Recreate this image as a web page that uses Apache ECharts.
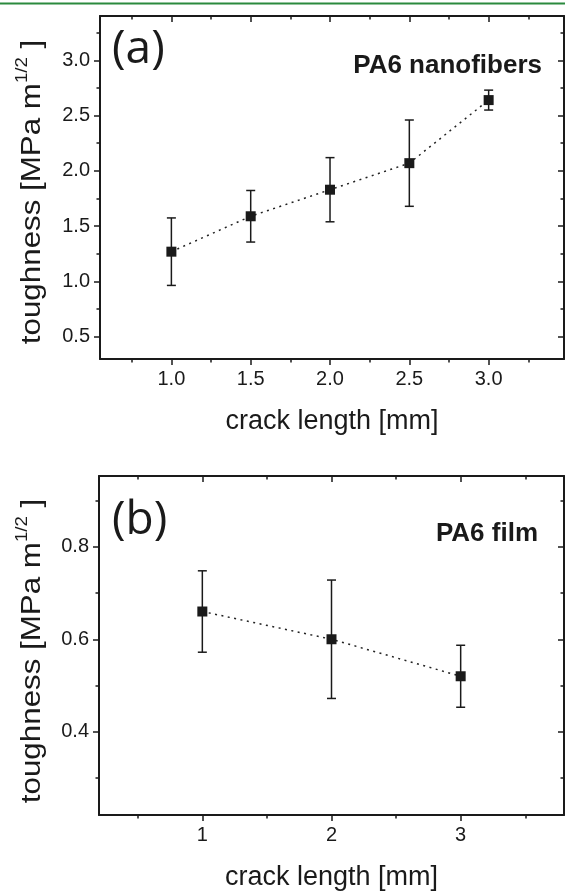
<!DOCTYPE html>
<html><head><meta charset="utf-8">
<script src="https://cdn.jsdelivr.net/npm/echarts@6/dist/echarts.min.js"></script>
<style>html,body{margin:0;padding:0;background:#fff}#c{width:565px;height:892px}</style>
</head><body><div id="c"></div>
<script>
// ---- data ----
const crackA = [1.0, 1.5, 2.0, 2.5, 3.0];
const toughA = [1.27, 1.59, 1.83, 2.07, 2.64];
const errA   = [0.305, 0.233, 0.29, 0.39, 0.09];
const crackB = [1, 2, 3];
const toughB = [0.66, 0.60, 0.52];
const errB   = [0.088, 0.128, 0.067];
const xMajorA = [1.0, 1.5, 2.0, 2.5, 3.0];
const xMinorA = [0.75, 1.25, 1.75, 2.25, 2.75, 3.25];
const yMajorA = [0.5, 1.0, 1.5, 2.0, 2.5, 3.0];
const yMinorA = [0.75, 1.25, 1.75, 2.25, 2.75, 3.25];
const xMajorB = [1, 2, 3];
const xMinorB = [0.5, 1.5, 2.5, 3.5];
const yMajorB = [0.4, 0.6, 0.8];
const yMinorB = [0.3, 0.5, 0.7, 0.9];
const labelA = '(a)';
const labelB = '(b)';
const nameA = 'PA6 nanofibers';
const nameB = 'PA6 film';
const xTitle = 'crack length [mm]';

const INK = '#1a1a1a';
const FONT = '"Liberation Sans", Arial, sans-serif';

function buildAxes(gi, dim, min, max, major, minor, fmt) {
  const mainPos = dim === 'x' ? 'bottom' : 'left';
  const oppPos = dim === 'x' ? 'top' : 'right';
  const tickStyle = {color: INK, width: 1.5};
  const lineOn = {show: true, onZero: false, lineStyle: {color: INK, width: 2}};
  const lineOff = {show: false, onZero: false};
  const base = {type: 'value', gridIndex: gi, min: min, max: max, splitLine: {show: false}, axisLabel: {show: false}};
  const main = Object.assign({}, base, {
    position: mainPos, axisLine: lineOn,
    axisTick: {show: true, inside: false, length: 6, customValues: major, lineStyle: tickStyle},
    axisLabel: {show: true, customValues: major, formatter: fmt, margin: 10, fontSize: 20, fontFamily: FONT, color: INK}
  });
  if (dim === 'x') {
    main.name = xTitle; main.nameLocation = 'middle'; main.nameGap = 49;
    main.nameTextStyle = {fontSize: 27, fontFamily: FONT, color: INK};
  }
  return [
    main,
    Object.assign({}, base, {position: mainPos, axisLine: lineOff,
      axisTick: {show: true, inside: false, length: 3.5, customValues: minor, lineStyle: tickStyle}}),
    Object.assign({}, base, {position: oppPos, axisLine: lineOn,
      axisTick: {show: true, inside: true, length: 6, customValues: major, lineStyle: tickStyle}}),
    Object.assign({}, base, {position: oppPos, axisLine: lineOff,
      axisTick: {show: true, inside: true, length: 3.5, customValues: minor, lineStyle: tickStyle}})
  ];
}

const f1 = v => v.toFixed(1);
const f0 = v => String(Math.round(v));

const xAxes = buildAxes(0, 'x', 0.55, 3.475, xMajorA, xMinorA, f1)
  .concat(buildAxes(1, 'x', 0.2, 3.8, xMajorB, xMinorB, f0));
const yAxes = buildAxes(0, 'y', 0.3, 3.4, yMajorA, yMinorA, f1)
  .concat(buildAxes(1, 'y', 0.22, 0.953, yMajorB, yMinorB, f1));

function errorRender(params, api) {
  const x = api.value(0), lo = api.value(1), hi = api.value(2);
  const p1 = api.coord([x, hi]), p2 = api.coord([x, lo]);
  const w = 4.5;
  const st = {stroke: INK, lineWidth: 1.5};
  return {type: 'group', children: [
    {type: 'line', shape: {x1: p1[0], y1: p1[1], x2: p2[0], y2: p2[1]}, style: st},
    {type: 'line', shape: {x1: p1[0] - w, y1: p1[1], x2: p1[0] + w, y2: p1[1]}, style: st},
    {type: 'line', shape: {x1: p2[0] - w, y1: p2[1], x2: p2[0] + w, y2: p2[1]}, style: st}
  ]};
}

function panelSeries(xi, xs, ys, es) {
  return [
    {type: 'custom', xAxisIndex: xi, yAxisIndex: xi, renderItem: errorRender,
     encode: {x: 0, y: [1, 2]}, z: 2,
     data: xs.map((x, i) => [x, ys[i] - es[i], ys[i] + es[i]])},
    {type: 'line', xAxisIndex: xi, yAxisIndex: xi, z: 3,
     data: xs.map((x, i) => [x, ys[i]]),
     symbol: 'rect', symbolSize: 10, showSymbol: true,
     itemStyle: {color: INK},
     lineStyle: {color: '#222', width: 1.5, type: [2, 4.5]}}
  ];
}

const yTitleStyle = {
  text: 'toughness [MPa m{s|1/2} ]',
  font: '27px ' + FONT, fill: INK, lineHeight: 36,
  align: 'center', verticalAlign: 'middle',
  rich: {s: {fontSize: 16, fontFamily: FONT, fill: INK, verticalAlign: 'top', lineHeight: 16}}
};

const chart = echarts.init(document.getElementById('c'), null, {renderer: 'canvas'});
chart.setOption({
  animation: false,
  backgroundColor: '#fff',
  grid: [
    {left: 100, top: 16, width: 464, height: 343},
    {left: 99, top: 476, width: 465, height: 342}
  ],
  xAxis: xAxes,
  yAxis: yAxes,
  series: panelSeries(0, crackA, toughA, errA).concat(panelSeries(4, crackB, toughB, errB)),
  graphic: [
    {type: 'line', shape: {x1: 0, y1: 3.5, x2: 565, y2: 3.5}, style: {stroke: '#2b8a3e', lineWidth: 2}},
    {type: 'text', x: 112, y: 50, style: {text: labelA, font: '46px "Open Sans", sans-serif', fill: INK, verticalAlign: 'middle'}},
    {type: 'text', x: 112, y: 521, style: {text: labelB, font: '46px "Open Sans", sans-serif', fill: INK, verticalAlign: 'middle'}},
    {type: 'text', x: 542, y: 53, style: {text: nameA, font: 'bold 26px ' + FONT, fill: INK, align: 'right', verticalAlign: 'alphabetic'}},
    {type: 'text', x: 538, y: 521, style: {text: nameB, font: 'bold 26px ' + FONT, fill: INK, align: 'right', verticalAlign: 'alphabetic'}},
    {type: 'text', x: 33, y: 192, rotation: Math.PI / 2, scaleX: 1.16, style: Object.assign({}, yTitleStyle)},
    {type: 'text', x: 33, y: 651, rotation: Math.PI / 2, scaleX: 1.16, style: Object.assign({}, yTitleStyle)}
  ]
});
</script>
</body></html>
